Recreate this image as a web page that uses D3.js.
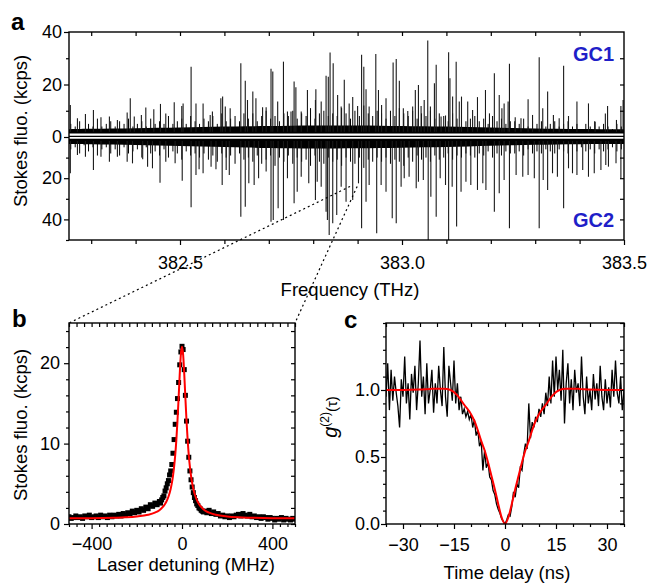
<!DOCTYPE html>
<html lang="en">
<head>
<meta charset="utf-8" />
<title>Stokes fluorescence of single emitters</title>
<script src="https://cdnjs.cloudflare.com/ajax/libs/d3/7.8.5/d3.min.js"></script>
<style>
  body { margin: 0; background: #fff; }
  svg text { font-family: "Liberation Sans", Arial, Helvetica, sans-serif; fill: #000; }
  .axis-title { font-size: 18.5px; }
  .panel-label { font-size: 24px; font-weight: bold; }
  .gc-label { font-size: 20px; font-weight: bold; fill: #1f1fc8; }
</style>
</head>
<body>
<div id="chart"></div>
<script>
// ---------- panel a: spectra (THz, kcps) ----------
const gc1Freq = [382.253,382.269,382.287,382.305,382.322,382.341,382.359,382.381,382.388,382.397,
  382.413,382.423,382.441,382.456,382.468,382.487,382.504,382.507,382.525,382.536,
  382.552,382.568,382.573,382.592,382.596,382.602,382.613,382.637,382.647,382.652,
  382.664,382.671,382.686,382.694,382.705,382.709,382.720,382.733,382.742,382.750,
  382.757,382.761,382.773,382.787,382.805,382.806,382.818,382.829,382.834,382.838,
  382.845,382.855,382.863,382.870,382.881,382.889,382.900,382.909,382.914,382.919,
  382.926,382.941,382.947,382.954,382.964,382.980,382.987,382.994,383.003,383.013,
  383.024,383.030,383.037,383.043,383.050,383.058,383.064,383.073,383.077,383.088,
  383.098,383.105,383.108,383.114,383.122,383.129,383.134,383.148,383.159,383.170,
  383.188,383.197,383.208,383.219,383.225,383.230,383.239,383.242,383.255,383.268,
  383.284,383.294,383.309,383.317,383.328,383.341,383.354,383.364,383.375,383.394,
  383.420,383.435,383.458,383.463,383.483,383.493,383.498];
const gc1Peak = [12.2,7.1,8.8,10.3,7.5,7.8,6.5,9.3,14.8,7.8,
  8.4,11.2,10.6,12.6,9.0,13.2,11.8,12.8,26.8,12.8,
  12.8,8.4,9.7,14.8,15.4,11.6,11.0,28.1,21.4,14.1,
  17.3,14.8,11.3,11.3,26.0,25.0,13.5,28.7,9.7,9.7,
  21.1,19.0,9.7,17.9,14.1,18.2,13.5,23.3,23.0,32.2,
  28.1,16.0,11.6,21.8,12.8,15.2,11.8,31.3,26.8,18.2,
  11.6,31.6,17.9,12.2,14.8,28.4,29.7,21.4,11.0,9.9,
  11.6,17.9,19.8,11.8,14.1,36.8,11.6,20.5,27.5,7.8,
  8.2,32.3,22.4,15.4,28.7,13.5,15.4,13.5,10.3,15.2,
  17.9,9.0,24.3,16.0,11.0,12.8,13.5,27.9,7.5,7.1,
  14.4,8.4,30.4,11.0,17.3,8.4,7.1,27.1,8.0,13.5,
  12.8,5.8,9.0,11.8,6.5,11.8,14.1];

const gc2Freq = [382.253,382.269,382.287,382.305,382.322,382.341,382.359,382.381,382.393,382.416,
  382.427,382.438,382.455,382.468,382.489,382.505,382.525,382.536,382.543,382.552,
  382.570,382.581,382.595,382.604,382.611,382.637,382.647,382.655,382.667,382.677,
  382.694,382.705,382.710,382.721,382.733,382.742,382.757,382.764,382.773,382.790,
  382.805,382.809,382.818,382.829,382.832,382.836,382.844,382.853,382.863,382.874,
  382.889,382.902,382.909,382.919,382.926,382.943,382.953,382.964,382.978,382.987,
  382.998,383.005,383.016,383.032,383.037,383.048,383.059,383.065,383.077,383.086,
  383.098,383.105,383.113,383.123,383.133,383.144,383.155,383.170,383.182,383.189,
  383.208,383.219,383.230,383.242,383.257,383.272,383.284,383.298,383.309,383.318,
  383.328,383.339,383.350,383.364,383.375,383.384,383.394,383.407,383.420,383.433,
  383.448,383.459,383.465,383.482,383.493];
const gc2Peak = [17.6,8.7,9.6,16.0,9.6,12.0,9.6,12.0,12.8,10.8,
  14.4,15.2,22.2,12.0,12.8,21.2,34.1,18.4,15.7,17.6,
  14.4,15.7,23.3,16.0,18.4,38.7,33.8,22.5,23.3,20.0,
  16.8,41.1,40.3,34.6,40.3,20.0,32.2,26.6,19.3,22.5,
  30.6,21.7,24.1,36.3,40.3,47.6,41.9,37.9,24.1,31.4,
  30.6,22.5,44.3,31.4,23.3,46.7,23.3,26.6,39.5,41.9,
  24.1,20.0,19.3,24.9,21.7,20.9,50.0,29.0,38.7,20.0,
  23.3,50.0,24.1,43.5,26.6,21.7,23.3,25.7,22.5,25.7,
  36.3,27.3,20.9,44.3,18.4,19.3,18.4,20.0,44.3,20.9,
  25.7,17.6,19.3,34.6,15.2,17.6,18.4,16.0,19.3,17.6,
  16.0,13.6,14.4,12.8,20.0];

// small background lines, one every 0.01 THz from 382.25 to 383.50
const grassStart = 382.25, grassStep = 0.01;
const gc1Grass = [5,4,6,3,5,4,7,4,5,6, 4,6,5,7,4,5,6,4,7,5, 6,5,8,5,6,7,5,8,6,5,
  7,6,8,5,9,6,7,8,6,9, 7,9,6,8,10,7,8,6,9,8, 10,7,9,8,11,7,9,10,8,9,
  8,11,9,7,10,8,12,9,8,10, 9,7,10,8,11,9,8,10,7,9, 8,10,7,9,8,6,9,7,8,6,
  7,8,6,7,5,8,6,7,5,6, 6,5,7,4,6,5,6,4,5,6, 4,5,6,4,5,3,5,4,6,4, 5,4,3,5,4,5];
const gc2Grass = [6,5,8,4,7,5,9,6,5,8, 6,9,5,8,7,6,10,5,8,7, 9,6,10,7,8,11,7,9,8,10,
  8,11,9,12,8,10,9,13,8,11, 10,12,9,13,11,9,14,10,12,9, 13,10,12,11,14,9,12,13,10,12,
  11,14,10,12,13,10,15,11,12,10, 12,10,13,11,12,14,10,12,9,11, 10,12,9,11,10,8,11,9,10,8,
  9,10,8,9,7,10,8,9,7,8, 8,7,9,6,8,7,8,6,7,8, 6,7,8,6,7,5,7,6,8,6, 7,6,5,7,6,7];

// dense noise floor of each trace
const bandFreq = [382.25,382.30,382.35,382.40,382.45,382.50,382.55,382.60,382.65,382.70,
  382.75,382.80,382.85,382.90,382.95,383.00,383.05,383.10,383.15,383.20,
  383.25,383.30,383.35,383.40,383.45,383.50];
const gc1Band = [3.0,3.1,3.2,3.3,3.5,3.6,3.8,4.0,4.1,4.2,4.3,4.4,4.4,4.4,4.3,4.2,4.1,4.0,3.8,3.6,3.4,3.2,3.1,3.0,3.0,3.0];
const gc2Band = [3.4,3.5,3.7,3.9,4.1,4.3,4.6,4.9,5.1,5.3,5.5,5.6,5.6,5.5,5.4,5.2,5.0,4.8,4.6,4.3,4.0,3.8,3.6,3.5,3.4,3.4];

// line zoomed in panel b (THz, GC2 depth)
const zoomFreq = [382.883, 382.899];
const zoomDepth = 24;

// ---------- panel b: one line (MHz, kcps) ----------
const bDetuning = [-500,-490,-480,-470,-460,-450,-440,-430,-420,-410,-400,-390,-380,-370,-360,-350,-340,-330,-320,-310,
  -300,-290,-280,-270,-260,-250,-240,-230,-220,-210,-200,-190,-180,-170,-160,-150,-140,-130,-120,-110,-100,
  -95,-90,-85,-80,-75,-70,-65,-60,-55,-50,-45,-40,-35,-30,-25,-20,-15,-10,-5,0,
  5,10,15,20,25,30,35,40,45,50,55,60,65,70,75,80,85,90,95,
  100,110,120,130,140,150,160,170,180,190,200,210,220,230,240,250,260,270,280,290,
  300,310,320,330,340,350,360,370,380,390,400,410,420,430,440,450,460,470,480,490,500];
const bCounts = [0.9,0.7,0.8,1.0,0.8,0.9,0.7,1.0,0.9,1.1,0.8,0.9,1.0,0.8,1.1,0.9,1.0,0.8,1.1,0.9,
  1.1,1.0,1.2,1.0,1.3,1.1,1.4,1.3,1.6,1.4,1.7,1.5,1.9,1.7,2.1,1.9,2.4,2.2,2.6,2.4,2.8,
  2.6,3.0,3.3,3.5,4.1,4.5,5.0,5.4,6.1,6.6,7.4,8.8,10.5,12.4,13.9,15.6,17.6,19.8,21.4,22.1,
  21.7,19.2,16.0,12.8,10.3,8.3,6.6,5.5,4.6,3.9,3.3,2.9,2.5,2.3,2.0,1.9,1.7,1.6,1.5,
  1.6,1.4,1.7,1.3,1.5,1.2,1.3,1.0,1.1,0.9,1.0,0.8,1.0,0.9,1.1,1.2,1.0,1.3,1.1,1.0,
  1.2,0.9,1.0,0.8,0.9,0.7,0.9,0.8,0.6,0.8,0.7,0.5,0.7,0.6,0.8,0.5,0.7,0.6,0.5,0.7,0.6];
const bFitDetuning = [-500,-400,-300,-250,-200,-150,-120,-100,-80,-70,-60,-50,-45,-40,-35,-30,-25,-20,-15,-10,-5,0,
  5,10,15,20,25,30,35,40,45,50,60,70,80,100,120,150,200,250,300,400,500];
const bFitCounts = [0.70,0.72,0.78,0.83,0.93,1.14,1.41,1.72,2.28,2.74,3.39,4.39,5.08,5.97,7.10,8.57,10.46,12.84,15.67,18.65,21.08,22.05,
  21.08,18.65,15.67,12.84,10.46,8.57,7.10,5.97,5.08,4.39,3.39,2.74,2.28,1.72,1.41,1.14,0.93,0.83,0.78,0.72,0.70];

// ---------- panel c: g2 (ns) ----------
const g2Start = -35, g2Bin = 0.5;
const g2Values = [0.95,1.20,0.85,1.15,0.92,1.10,0.98,0.88,0.72,1.08,
  0.95,1.25,0.90,1.05,0.78,1.12,0.98,1.18,0.85,1.05,
  1.37,0.95,1.10,0.82,1.20,0.90,1.00,1.15,0.83,1.05,
  0.90,1.18,1.00,0.88,1.32,0.95,0.80,1.18,1.05,0.92,
  1.22,0.90,1.05,0.85,0.95,0.82,0.86,0.80,0.84,0.78,
  0.82,0.72,0.78,0.66,0.70,0.58,0.62,0.40,0.55,0.42,
  0.46,0.35,0.33,0.25,0.22,0.15,0.11,0.08,0.04,0.02,
  0.00,0.03,0.07,0.06,0.13,0.24,0.20,0.30,0.27,0.42,
  0.40,0.52,0.60,0.56,0.90,0.64,0.76,0.72,0.80,0.76,
  0.86,0.80,0.90,0.82,0.98,0.88,1.10,0.90,1.22,0.95,
  1.25,1.00,1.15,0.92,1.30,0.75,1.05,1.20,0.90,1.08,
  0.85,1.15,0.98,1.05,0.88,1.25,0.95,0.82,1.10,0.90,
  1.00,0.85,1.12,0.93,1.05,0.88,1.18,0.95,0.85,1.08,
  0.90,1.02,0.87,1.15,0.95,1.22,0.98,0.90,1.10,0.85,1.00];
const g2FitDelay = [-35,-30,-25,-22,-20,-18,-16,-14,-12,-10,-9,-8,-7,-6,-5,-4,-3,-2,-1,0,
  1,2,3,4,5,6,7,8,9,10,12,14,16,18,20,22,25,30,35];
const g2FitValues = [1.0,1.0,1.003,1.008,1.01,1.01,1.0,0.96,0.89,0.82,0.77,0.70,0.62,0.55,0.46,0.36,0.26,0.15,0.05,0.0,
  0.05,0.15,0.26,0.36,0.46,0.55,0.62,0.70,0.77,0.82,0.89,0.96,1.0,1.01,1.01,1.008,1.003,1.0,1.0];

// ---------- setup ----------
const FONT = '"Liberation Sans", Arial, Helvetica, sans-serif';
const svg = d3.select("#chart").append("svg").attr("width", 651).attr("height", 583);

function axis(g, fn, scale, values, size, fmt, pad) {
  g.call(fn(scale).tickValues(values).tickSizeInner(size).tickSizeOuter(0)
      .tickPadding(pad || 3).tickFormat(fmt || (() => "")))
    .attr("font-family", FONT).attr("font-size", 18);
  g.select(".domain").remove();
  g.selectAll(".tick line").attr("stroke", "#000").attr("stroke-width", 1.2);
  g.selectAll(".tick text").attr("fill", "#000");
}

// full box: labelled ticks out on left/bottom, mirror ticks in on top/right
function box(x, y, xMaj, xMin, yMaj, yMin, xFmt, yFmt, xPad, yPad) {
  const [x0, x1] = x.range(), [y0, y1] = y.range();
  const g = svg.append("g");
  axis(g.append("g").attr("transform", `translate(0,${y0})`), d3.axisBottom, x, xMin, 3);
  axis(g.append("g").attr("transform", `translate(0,${y0})`), d3.axisBottom, x, xMaj, 5, xFmt, xPad);
  axis(g.append("g").attr("transform", `translate(0,${y1})`), d3.axisBottom, x, xMin.concat(xMaj), 4);
  axis(g.append("g").attr("transform", `translate(${x0},0)`), d3.axisLeft, y, yMin, 3);
  axis(g.append("g").attr("transform", `translate(${x0},0)`), d3.axisLeft, y, yMaj, 5, yFmt, yPad);
  axis(g.append("g").attr("transform", `translate(${x1},0)`), d3.axisLeft, y, yMin.concat(yMaj), 4);
  g.append("rect").attr("x", x0).attr("y", y1).attr("width", x1 - x0).attr("height", y0 - y1)
    .attr("fill", "none").attr("stroke", "#000").attr("stroke-width", 1.4);
  return g;
}

function clip(id, x, y) {
  const [x0, x1] = x.range(), [y0, y1] = y.range();
  svg.append("clipPath").attr("id", id).append("rect")
    .attr("x", x0).attr("y", Math.min(y0, y1)).attr("width", x1 - x0).attr("height", Math.abs(y0 - y1));
}

// ---------- panel a ----------
const xA = d3.scaleLinear().domain([382.25, 383.5]).range([69, 624]);
const yA1 = d3.scaleLinear().domain([0, 40]).range([137, 32]);
const yA2 = d3.scaleLinear().domain([0, 50]).range([137, 240]);
const yAbox = d3.scaleLinear().domain([0, 1]).range([240, 32]);
clip("clipA", xA, yAbox);

const gA = svg.append("g").attr("clip-path", "url(#clipA)");
gA.append("path").datum(bandFreq.map((f, i) => [f, gc1Band[i]]))
  .attr("fill", "#000")
  .attr("d", d3.area().curve(d3.curveBasis).x(d => xA(d[0])).y0(yA1(1.3)).y1(d => yA1(d[1])));
gA.append("path").datum(bandFreq.map((f, i) => [f, gc2Band[i]]))
  .attr("fill", "#000")
  .attr("d", d3.area().curve(d3.curveBasis).x(d => xA(d[0])).y0(yA2(0.8)).y1(d => yA2(d[1])));
gA.append("line").attr("x1", 69).attr("x2", 624).attr("y1", yA1(0) - 0.6).attr("y2", yA1(0) - 0.6)
  .attr("stroke", "#000").attr("stroke-width", 1.3);

const spikes = (cls, freqs, vals, yS, width, color) =>
  gA.selectAll("." + cls).data(freqs).join("line").attr("class", cls)
    .attr("x1", d => xA(d)).attr("x2", d => xA(d))
    .attr("y1", yS(2)).attr("y2", (d, i) => yS(vals[i]))
    .attr("stroke", color).attr("stroke-width", width);
spikes("g1", gc1Grass.map((v, i) => grassStart + i * grassStep + 0.004), gc1Grass, yA1, 1, "#000");
spikes("g2", gc2Grass.map((v, i) => grassStart + i * grassStep + 0.004), gc2Grass, yA2, 1, "#000");
spikes("s1", gc1Freq, gc1Peak, yA1, 1.1, "#1a1a1a");
spikes("s2", gc2Freq, gc2Peak, yA2, 1.1, "#1a1a1a");

const xMinA = [382.3, 382.4, 382.6, 382.7, 382.8, 382.9, 383.1, 383.2, 383.3, 383.4];
const gAx = svg.append("g");
axis(gAx.append("g").attr("transform", "translate(0,240)"), d3.axisBottom, xA, xMinA, 4);
axis(gAx.append("g").attr("transform", "translate(0,240)"), d3.axisBottom, xA, [382.5, 383.0, 383.5], 5, d3.format(".1f"), 11);
axis(gAx.append("g").attr("transform", "translate(0,32)"), d3.axisBottom, xA, xMinA.concat([382.5, 383.0]), 4);
axis(gAx.append("g").attr("transform", "translate(69,0)"), d3.axisLeft, yA1, [10, 30], 3);
axis(gAx.append("g").attr("transform", "translate(69,0)"), d3.axisLeft, yA1, [0, 20, 40], 5, d3.format("d"), 2);
axis(gAx.append("g").attr("transform", "translate(69,0)"), d3.axisLeft, yA2, [10, 30, 50], 3);
axis(gAx.append("g").attr("transform", "translate(69,0)"), d3.axisLeft, yA2, [20, 40], 5, d3.format("d"), 2);
axis(gAx.append("g").attr("transform", "translate(624,0)"), d3.axisLeft, yA1, [10, 20, 30], 4);
axis(gAx.append("g").attr("transform", "translate(624,0)"), d3.axisLeft, yA2, [10, 20, 30, 40], 4);
gAx.append("rect").attr("x", 69).attr("y", 32).attr("width", 555).attr("height", 208)
  .attr("fill", "none").attr("stroke", "#000").attr("stroke-width", 1.4);

svg.append("text").attr("class", "gc-label").attr("x", 614).attr("y", 61).attr("text-anchor", "end").text("GC1");
svg.append("text").attr("class", "gc-label").attr("x", 614).attr("y", 227).attr("text-anchor", "end").text("GC2");
svg.append("text").attr("class", "panel-label").attr("x", 11).attr("y", 30).text("a");
svg.append("text").attr("class", "axis-title").attr("text-anchor", "middle")
  .attr("transform", "translate(27,131) rotate(-90)").text("Stokes fluo. (kcps)");
svg.append("text").attr("class", "axis-title").attr("text-anchor", "middle")
  .attr("x", 350).attr("y", 296).text("Frequency (THz)");

// ---------- panel b ----------
const xB = d3.scaleLinear().domain([-500, 500]).range([69, 295]);
const yB = d3.scaleLinear().domain([0, 25]).range([524, 323]);
clip("clipB", xB, yB);

// dotted zoom lines from the chosen line in panel a to the corners of panel b
const zoomLines = [[zoomFreq[0], -500], [zoomFreq[1], 500]];
svg.selectAll(".zoom").data(zoomLines).join("line").attr("class", "zoom")
  .attr("x1", d => xA(d[0])).attr("y1", yA2(zoomDepth))
  .attr("x2", d => xB(d[1])).attr("y2", yB(25))
  .attr("stroke", "#000").attr("stroke-width", 1.2).attr("stroke-dasharray", "2,3");

const gB = svg.append("g").attr("clip-path", "url(#clipB)");
gB.selectAll("rect").data(bDetuning).join("rect")
  .attr("x", d => xB(d) - 2.5).attr("y", (d, i) => yB(bCounts[i]) - 2.5)
  .attr("width", 5).attr("height", 5).attr("fill", "#000");
gB.append("path").datum(bFitDetuning.map((d, i) => [d, bFitCounts[i]]))
  .attr("fill", "none").attr("stroke", "#f00").attr("stroke-width", 2)
  .attr("d", d3.line().curve(d3.curveMonotoneX).x(d => xB(d[0])).y(d => yB(d[1])));

box(xB, yB, [-400, 0, 400], d3.range(-500, 501, 400 / 12).filter(v => Math.abs(v % 400) > 1e-6),
  [0, 10, 20], [2, 4, 6, 8, 12, 14, 16, 18, 22, 24], d3.format("d"), d3.format("d"), 8, 4);
svg.append("text").attr("class", "panel-label").attr("x", 12).attr("y", 327).text("b");
svg.append("text").attr("class", "axis-title").attr("text-anchor", "middle")
  .attr("transform", "translate(27,425) rotate(-90)").text("Stokes fluo. (kcps)");
svg.append("text").attr("class", "axis-title").attr("text-anchor", "middle")
  .attr("x", 186).attr("y", 571).text("Laser detuning (MHz)");

// ---------- panel c ----------
const xC = d3.scaleLinear().domain([-35, 35]).range([386, 624]);
const yC = d3.scaleLinear().domain([0, 1.5]).range([524, 323]);
clip("clipC", xC, yC);
const gC = svg.append("g").attr("clip-path", "url(#clipC)");
gC.append("path").datum(g2Values)
  .attr("fill", "none").attr("stroke", "#000").attr("stroke-width", 1.3)
  .attr("d", d3.line().x((d, i) => xC(g2Start + i * g2Bin)).y(d => yC(d)));
gC.append("path").datum(g2FitDelay.map((d, i) => [d, g2FitValues[i]]))
  .attr("fill", "none").attr("stroke", "#f00").attr("stroke-width", 2)
  .attr("d", d3.line().curve(d3.curveMonotoneX).x(d => xC(d[0])).y(d => yC(d[1])));

box(xC, yC, [-30, -15, 0, 15, 30], [-35, -25, -20, -10, -5, 5, 10, 20, 25, 35],
  [0, 0.5, 1.0], [0.1, 0.2, 0.3, 0.4, 0.6, 0.7, 0.8, 0.9, 1.1, 1.2, 1.3, 1.4, 1.5],
  d3.format("d"), d3.format(".1f"), 9, 1);
svg.append("text").attr("class", "panel-label").attr("x", 344).attr("y", 328).text("c");
const g2Title = svg.append("text").attr("class", "axis-title").attr("text-anchor", "middle")
  .attr("transform", "translate(337,417) rotate(-90)");
g2Title.append("tspan").attr("font-style", "italic").attr("font-size", 20).text("g");
g2Title.append("tspan").attr("font-size", 12).attr("dy", -8).text("(2)");
g2Title.append("tspan").attr("font-size", 15).attr("dy", 8).text("(τ)");
svg.append("text").attr("class", "axis-title").attr("text-anchor", "middle")
  .attr("x", 507).attr("y", 579).text("Time delay (ns)");
</script>
</body>
</html>
